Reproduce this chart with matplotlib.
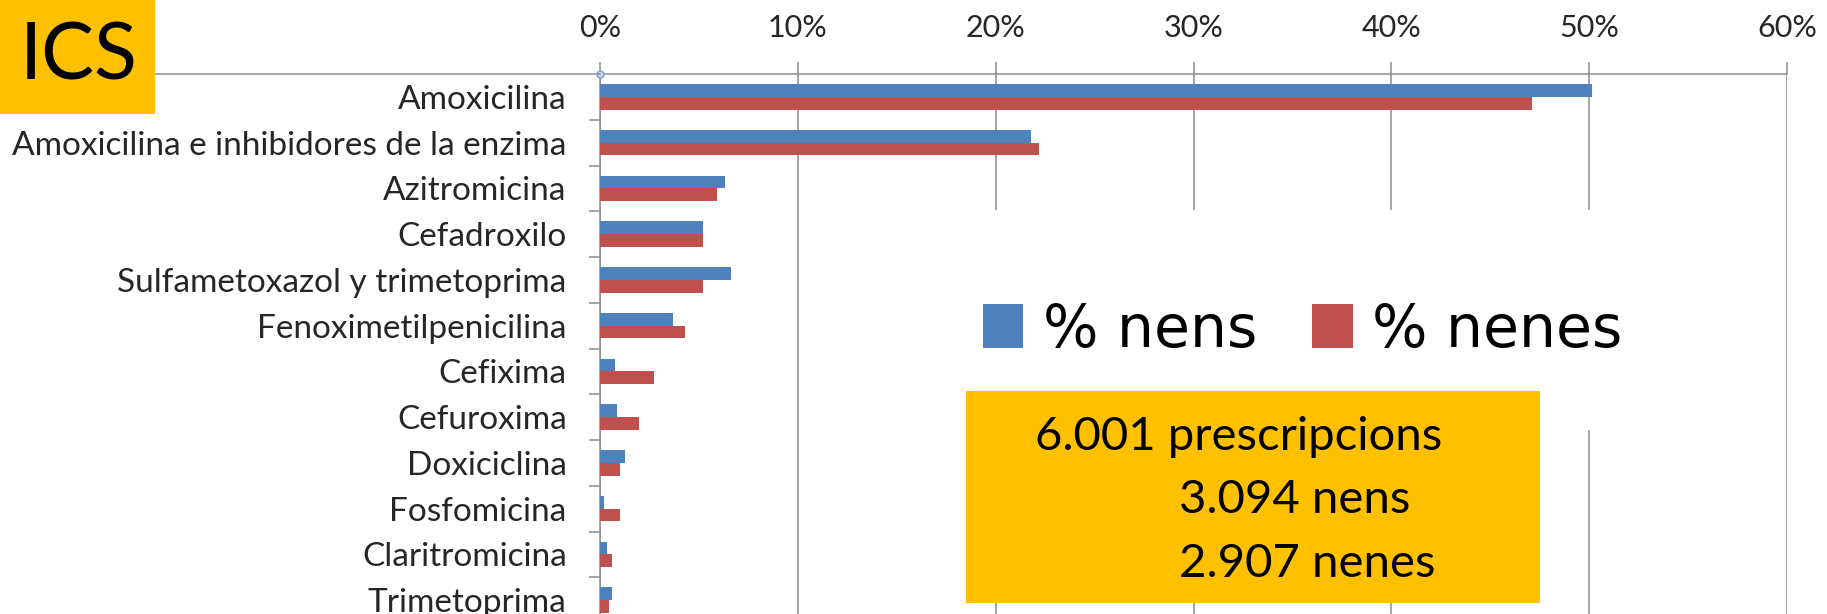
import matplotlib
matplotlib.use("Agg")
import matplotlib.pyplot as plt
import numpy as np
from matplotlib.lines import Line2D
from matplotlib.patches import Rectangle

plt.rcParams['font.family'] = ['Lato', 'DejaVu Sans']

categories = ['Amoxicilina', 'Amoxicilina e inhibidores de la enzima', 'Azitromicina',
              'Cefadroxilo', 'Sulfametoxazol y trimetoprima', 'Fenoximetilpenicilina',
              'Cefixima', 'Cefuroxima', 'Doxiciclina', 'Fosfomicina',
              'Claritromicina', 'Trimetoprima']
pct_nens = [50.15, 21.8, 6.3, 5.2, 6.6, 3.7, 0.75, 0.85, 1.25, 0.22, 0.37, 0.6]
pct_nenes = [47.1, 22.2, 5.9, 5.2, 5.2, 4.3, 2.75, 1.95, 1.0, 1.0, 0.6, 0.47]
series_labels = ['% nens', '% nenes']
x_ticks = [0, 10, 20, 30, 40, 50, 60]
x_ticklabels = ['0%', '10%', '20%', '30%', '40%', '50%', '60%']
info_lines = ['6.001 prescripcions', '3.094 nens', '2.907 nenes']

BLUE = '#4F81BD'
RED = '#C0504D'
GOLD = '#FFC000'
GRID = '#8C8C8C'
TXT = '#262626'

W, H = 1827, 614
fig = plt.figure(figsize=(W / 100, H / 100), dpi=100)


def fx(px):
    return px / W


def fy(py):
    return 1 - py / H


ax = fig.add_axes([fx(600), fy(623), fx(1787) - fx(600), fy(74) - fy(623)])

y = np.arange(len(categories))
h = 0.28
ax.barh(y - h / 2, pct_nens, height=h, color=BLUE, label=series_labels[0], zorder=3)
ax.barh(y + h / 2, pct_nenes, height=h, color=RED, label=series_labels[1], zorder=3)

ax.set_xlim(0, 60)
ax.set_ylim(len(categories) - 0.5, -0.5)
ax.xaxis.tick_top()
ax.set_xticks(x_ticks)
ax.set_xticklabels(x_ticklabels, fontsize=22, color=TXT)
ax.tick_params(axis='x', length=9, width=1.1, color=GRID, pad=14)
ax.set_yticks(y)
ax.set_yticklabels(categories, fontsize=24, color=TXT)
ax.tick_params(axis='y', which='major', length=0, pad=24)
ax.set_yticks(np.arange(len(categories)) + 0.5, minor=True)
ax.tick_params(axis='y', which='minor', length=8, width=1.1, color=GRID)
ax.grid(axis='x', color=GRID, linewidth=1.1, zorder=0)
ax.set_axisbelow(True)
for s in ['right', 'bottom']:
    ax.spines[s].set_visible(False)
for s in ['top', 'left']:
    ax.spines[s].set_color(GRID)
    ax.spines[s].set_linewidth(1.1)

# small handle at the origin
ax.plot(ax.get_xlim()[0], ax.get_ylim()[1], 'o', ms=5, mfc='#C6D9F1', mec='#7F9FBF',
        mew=1, clip_on=False, zorder=5)

# top rule extending to the left edge
fig.add_artist(Line2D([0, fx(600)], [fy(74), fy(74)], color=GRID, lw=1.1, zorder=1))

# white area behind legend hides gridlines
fig.add_artist(Rectangle((fx(930), fy(430)), fx(1700) - fx(930), fy(210) - fy(430),
                         facecolor='white', edgecolor='none', zorder=2))

handles, labels = ax.get_legend_handles_labels()
fig.legend(handles, labels, loc='center', bbox_to_anchor=(fx(1303), fy(330)), ncol=2,
           frameon=False, handlelength=0.69, handleheight=0.78, handletextpad=0.34,
           columnspacing=0.94,
           prop={'family': ['DejaVu Sans Condensed', 'DejaVu Sans'], 'size': 42})

# info box
fig.add_artist(Rectangle((fx(966), fy(603)), fx(1540) - fx(966), fy(391) - fy(603),
                         facecolor=GOLD, edgecolor='none', zorder=3))
fig.text(fx(1035), fy(450), info_lines[0], fontsize=34, color='black', va='baseline', zorder=4)
fig.text(fx(1179), fy(513), info_lines[1], fontsize=34, color='black', va='baseline', zorder=4)
fig.text(fx(1179), fy(577), info_lines[2], fontsize=34, color='black', va='baseline', zorder=4)

# ICS label
fig.add_artist(Rectangle((0, fy(114)), fx(155), 1 - fy(114), facecolor=GOLD,
                         edgecolor='none', zorder=3))
fig.text(fx(20), fy(79), 'ICS', fontsize=57, color='black', va='baseline', zorder=4)

fig.savefig('out.png', dpi=100, facecolor='white')
